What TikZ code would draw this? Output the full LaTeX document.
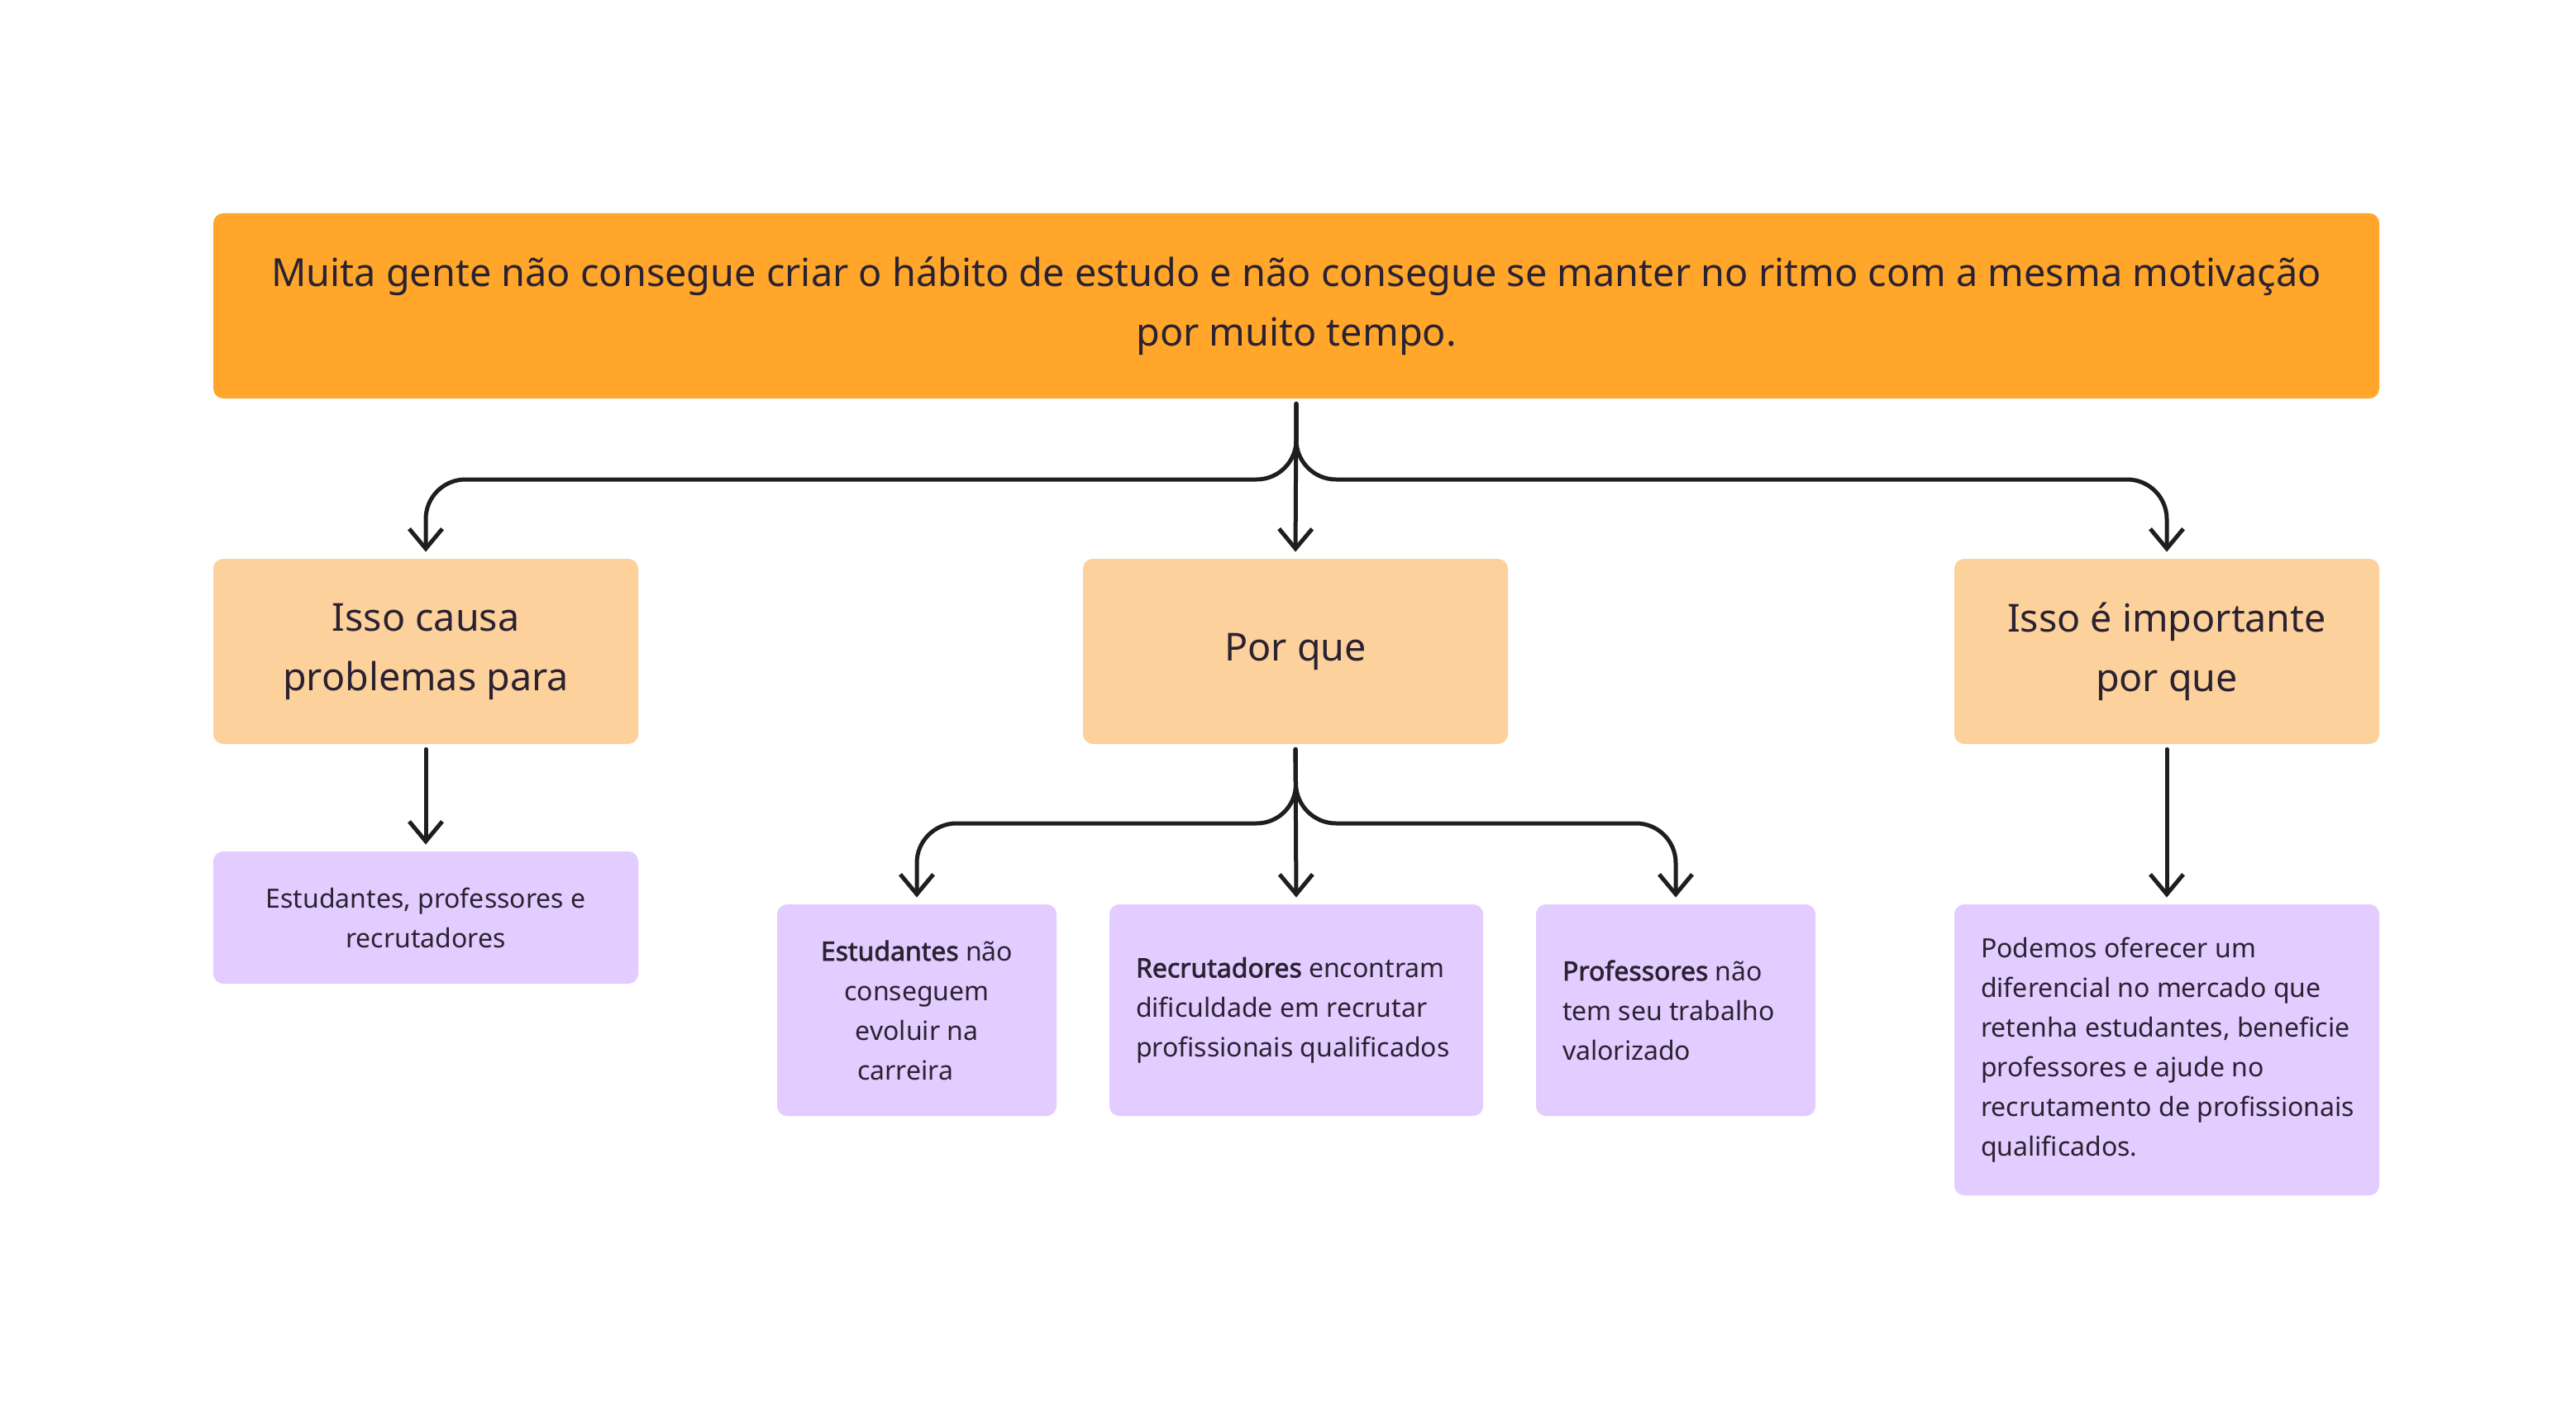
\documentclass[tikz,border=0pt]{standalone}
\usepackage{fontspec}
\setmainfont{Noto Sans}[AutoFakeBold=2.2]
\usetikzlibrary{arrows.meta,calc}
\definecolor{orangeA}{HTML}{FFA62B}
\definecolor{orangeB}{HTML}{FCD19C}
\definecolor{lilac}{HTML}{E3CCFF}
\definecolor{ink}{HTML}{2B2231}
\definecolor{linecol}{HTML}{1E1E1E}
\begin{document}
\begin{tikzpicture}[x=1pt,y=-1pt,
  box/.style={rounded corners=6pt, inner sep=0pt, text=ink, align=center},
  topbox/.style={box, fill=orangeA, minimum width=1310pt, minimum height=112pt, font=\fontsize{23.4}{36}\selectfont},
  midbox/.style={box, fill=orangeB, minimum width=257pt, minimum height=112pt, font=\fontsize{23.3}{36}\selectfont},
  leaf/.style={box, fill=lilac, font=\fontsize{16}{24}\selectfont},
  leaftext/.style={anchor=west, inner sep=0pt, text=ink, align=left, font=\fontsize{16}{24}\selectfont},
  arr/.style={draw=linecol, line width=2.5pt, line cap=round, line join=round,
    -{Straight Barb[length=12pt,width=20pt]}, shorten <=3pt, shorten >=4pt}]
\useasboundingbox (0,0) rectangle (1558,848);
\fill[white] (0,0) rectangle (1558,848);

\node[topbox] (top) at (784,185) {Muita gente não consegue criar o hábito de estudo e não consegue se manter no ritmo com a mesma motivação\\por muito tempo.};

\node[midbox] (b1) at (257.5,394) {Isso causa\\problemas para};
\node[midbox] (b2) at (783.5,394) {Por que};
\node[midbox] (b3) at (1310.5,394) {Isso é importante\\por que};

\node[leaf, minimum width=257pt, minimum height=80pt] (c1) at (257.5,555) {Estudantes, professores e\\recrutadores};

\node[leaf, minimum width=169pt, minimum height=128pt] (d1) at (554.5,611) {\textbf{Estudantes} não\\conseguem\\evoluir na\\carreira\hspace*{14pt}};
\node[leaf, minimum width=226pt, minimum height=128pt] (d2) at (784,611) {};
\node[leaftext] (t2) at ($(d2.west)+(16,0)$) {\textbf{Recrutadores} encontram\\dificuldade em recrutar\\profissionais qualificados};
\node[leaf, minimum width=169pt, minimum height=128pt] (d3) at (1013.5,611) {};
\node[leaftext] (t3) at ($(d3.west)+(16,0)$) {\textbf{Professores} não\\tem seu trabalho\\valorizado};
\node[leaf, minimum width=257pt, minimum height=176pt] (d4) at (1310.5,635) {};
\node[leaftext] (t4) at ($(d4.west)+(16,0)$) {Podemos oferecer um\\diferencial no mercado que\\retenha estudantes, beneficie\\professores e ajude no\\recrutamento de profissionais\\qualificados.};

\coordinate (j1) at (784,290);
\coordinate (j2) at (784,498);
\draw[arr, rounded corners=24pt] (top.south) -- (j1) -- (j1 -| b1.north) -- (b1.north);
\draw[arr] (top.south) -- (b2.north);
\draw[arr, rounded corners=24pt] (top.south) -- (j1) -- (j1 -| b3.north) -- (b3.north);
\draw[arr] (b1.south) -- (c1.north);
\draw[arr, rounded corners=24pt] (b2.south) -- (j2) -- (j2 -| d1.north) -- (d1.north);
\draw[arr] (b2.south) -- (d2.north);
\draw[arr, rounded corners=24pt] (b2.south) -- (j2) -- (j2 -| d3.north) -- (d3.north);
\draw[arr] (b3.south) -- (d4.north);
\end{tikzpicture}
\end{document}
